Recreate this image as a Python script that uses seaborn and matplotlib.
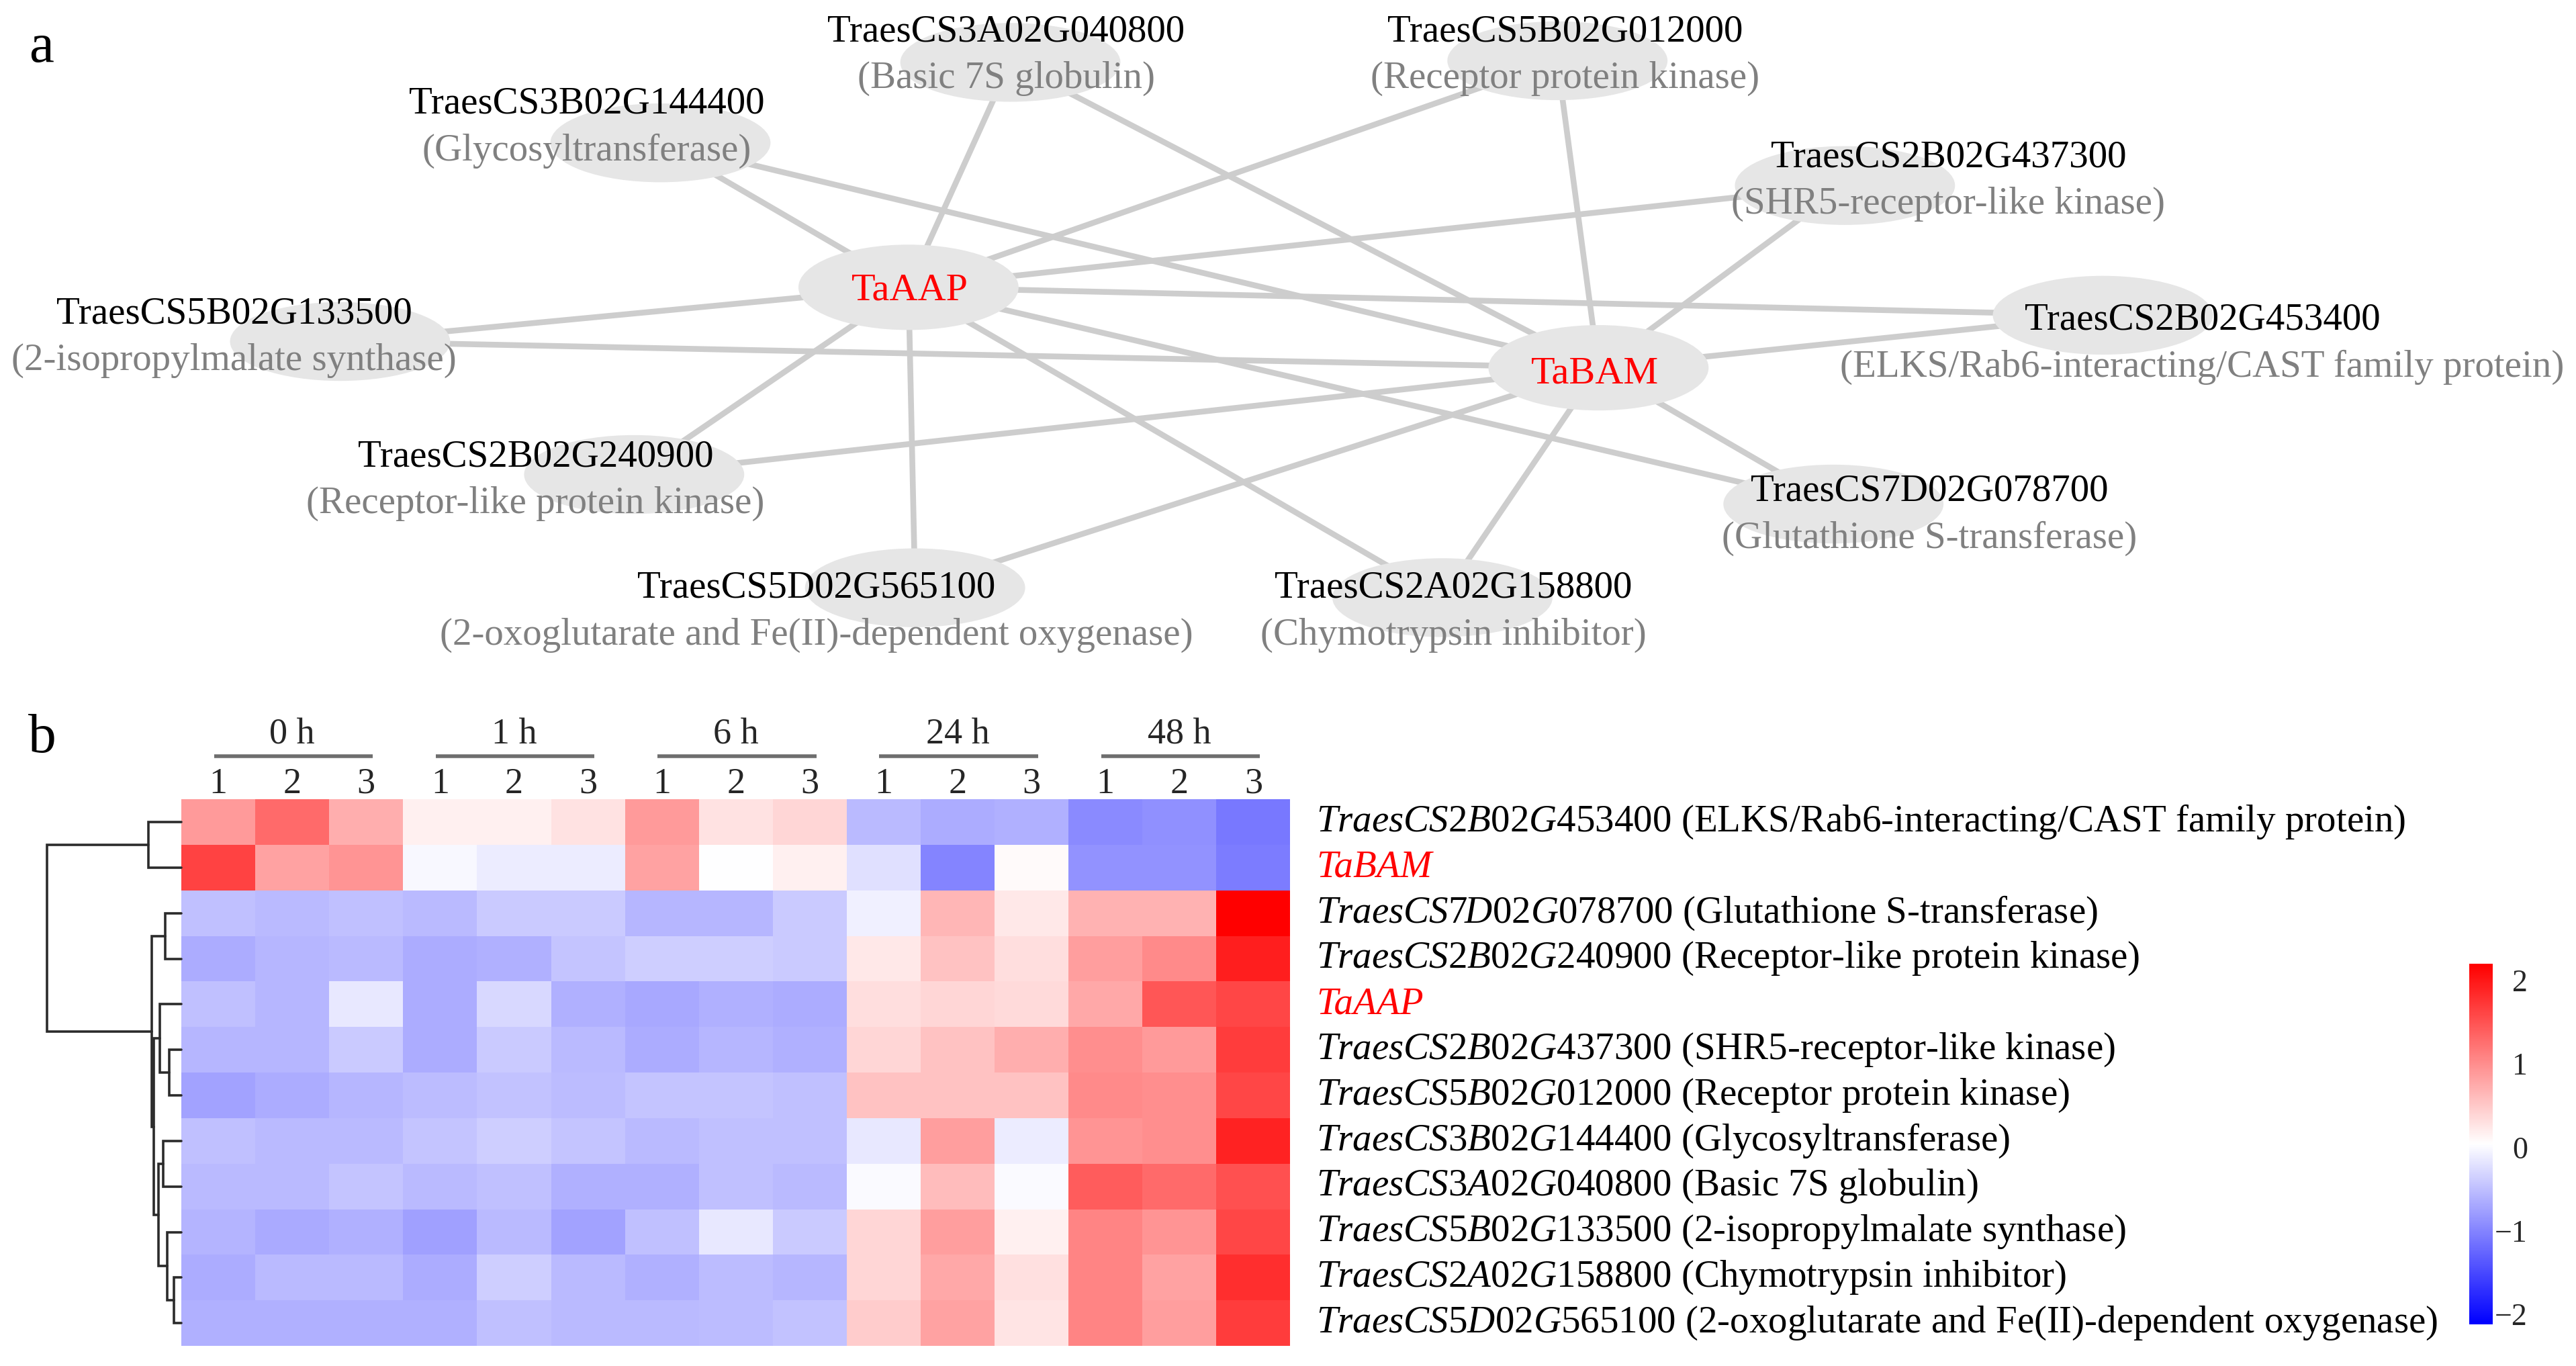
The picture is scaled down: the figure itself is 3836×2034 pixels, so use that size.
import numpy as np
import pandas as pd
import matplotlib
matplotlib.use("Agg")
import matplotlib.pyplot as plt
from matplotlib.patches import Ellipse
import seaborn as sns

# ------------------------------------------------------------------ data
hub_names = ["TaAAP", "TaBAM"]
partner_ids = ["TraesCS3A02G040800", "TraesCS5B02G012000", "TraesCS3B02G144400",
               "TraesCS2B02G437300", "TraesCS5B02G133500", "TraesCS2B02G453400",
               "TraesCS2B02G240900", "TraesCS7D02G078700", "TraesCS5D02G565100",
               "TraesCS2A02G158800"]
partner_desc = ["(Basic 7S globulin)", "(Receptor protein kinase)", "(Glycosyltransferase)",
                "(SHR5-receptor-like kinase)", "(2-isopropylmalate synthase)",
                "(ELKS/Rab6-interacting/CAST family protein)", "(Receptor-like protein kinase)",
                "(Glutathione S-transferase)", "(2-oxoglutarate and Fe(II)-dependent oxygenase)",
                "(Chymotrypsin inhibitor)"]
# every hub interacts with every partner
edge_source = [h for h in hub_names for _ in partner_ids]
edge_target = [p for _ in hub_names for p in partner_ids]

time_points = ["0 h", "1 h", "6 h", "24 h", "48 h"]
replicates = ["1", "2", "3"]
row_ids = ["TraesCS2B02G453400", "TaBAM", "TraesCS7D02G078700", "TraesCS2B02G240900",
           "TaAAP", "TraesCS2B02G437300", "TraesCS5B02G012000", "TraesCS3B02G144400",
           "TraesCS3A02G040800", "TraesCS5B02G133500", "TraesCS2A02G158800",
           "TraesCS5D02G565100"]
row_desc = ["(ELKS/Rab6-interacting/CAST family protein)", "", "(Glutathione S-transferase)",
            "(Receptor-like protein kinase)", "", "(SHR5-receptor-like kinase)",
            "(Receptor protein kinase)", "(Glycosyltransferase)", "(Basic 7S globulin)",
            "(2-isopropylmalate synthase)", "(Chymotrypsin inhibitor)",
            "(2-oxoglutarate and Fe(II)-dependent oxygenase)"]
expr_ELKS   = [0.90, 1.30, 0.73, 0.17, 0.17, 0.28, 0.90, 0.28, 0.39, -0.54, -0.66, -0.62, -0.95, -0.90, -1.10]
expr_TaBAM  = [1.64, 0.82, 0.95, -0.02, -0.12, -0.12, 0.82, 0.03, 0.17, -0.22, -1.00, 0.09, -0.88, -0.88, -1.07]
expr_7D0787 = [-0.49, -0.55, -0.49, -0.54, -0.41, -0.41, -0.58, -0.58, -0.41, -0.08, 0.65, 0.23, 0.69, 0.69, 2.20]
expr_2B2409 = [-0.66, -0.58, -0.54, -0.66, -0.63, -0.45, -0.37, -0.37, -0.41, 0.23, 0.56, 0.32, 0.86, 1.03, 1.94]
expr_TaAAP  = [-0.49, -0.58, -0.16, -0.66, -0.29, -0.62, -0.70, -0.62, -0.66, 0.32, 0.39, 0.35, 0.78, 1.47, 1.60]
expr_2B4373 = [-0.58, -0.58, -0.41, -0.66, -0.41, -0.54, -0.66, -0.58, -0.62, 0.39, 0.56, 0.73, 0.99, 0.90, 1.68]
expr_5B0120 = [-0.74, -0.66, -0.58, -0.52, -0.47, -0.52, -0.45, -0.45, -0.49, 0.56, 0.56, 0.56, 1.03, 0.99, 1.60]
expr_3B1444 = [-0.49, -0.54, -0.54, -0.45, -0.37, -0.45, -0.55, -0.49, -0.49, -0.16, 0.86, -0.12, 0.95, 0.99, 1.90]
expr_3A0408 = [-0.54, -0.54, -0.45, -0.54, -0.49, -0.62, -0.63, -0.49, -0.54, 0.00, 0.60, 0.00, 1.42, 1.30, 1.51]
expr_5B1335 = [-0.60, -0.68, -0.62, -0.77, -0.54, -0.74, -0.49, -0.16, -0.41, 0.39, 0.86, 0.17, 1.08, 0.95, 1.60]
expr_2A1588 = [-0.66, -0.54, -0.54, -0.66, -0.37, -0.55, -0.62, -0.52, -0.58, 0.39, 0.78, 0.30, 1.08, 0.82, 1.81]
expr_5D5651 = [-0.62, -0.62, -0.62, -0.62, -0.49, -0.54, -0.55, -0.52, -0.47, 0.47, 0.82, 0.26, 1.08, 0.86, 1.68]
cbar_ticks = [-2, -1, 0, 1, 2]

# dendrogram merges (left child, right child, height); leaves are rows 0..11
dendro_merges = [(0, 1, 0.244), (2, 3, 0.118), (5, 6, 0.092), (4, 14, 0.160),
                 (7, 8, 0.134), (10, 11, 0.054), (9, 17, 0.104), (16, 18, 0.171),
                 (15, 19, 0.205), (13, 20, 0.218), (12, 21, 1.0)]

# ------------------------------------------------------------------ layout (canvas px, 1568 x 832 frame)
W, H = 1568.0, 832.0
node_xy = {"TaAAP": (553, 175), "TaBAM": (973, 224),
           "TraesCS3A02G040800": (615, 38), "TraesCS5B02G012000": (948, 37),
           "TraesCS3B02G144400": (402, 87), "TraesCS2B02G437300": (1123, 113),
           "TraesCS5B02G133500": (207, 208), "TraesCS2B02G453400": (1280, 192),
           "TraesCS2B02G240900": (386, 289), "TraesCS7D02G078700": (1116, 307),
           "TraesCS5D02G565100": (557, 358), "TraesCS2A02G158800": (878, 364)}
label_xy = {"TraesCS3A02G040800": (612.5, 25), "TraesCS5B02G012000": (952.6, 25),
            "TraesCS3B02G144400": (357, 69), "TraesCS2B02G437300": (1186, 101.6),
            "TraesCS5B02G133500": (142.5, 197), "TraesCS2B02G453400": (1340.5, 200.7),
            "TraesCS2B02G240900": (326, 284), "TraesCS7D02G078700": (1174.5, 305),
            "TraesCS5D02G565100": (497, 364), "TraesCS2A02G158800": (884.7, 364)}
hub_label_xy = {"TaAAP": (553.8, 182.5), "TaBAM": (971, 233.3)}

# ------------------------------------------------------------------ style
sns.set_theme(style="white")
plt.rcParams["font.family"] = ["Liberation Serif", "DejaVu Serif"]
plt.rcParams["mathtext.fontset"] = "custom"
plt.rcParams["mathtext.rm"] = "Liberation Serif"
plt.rcParams["mathtext.it"] = "Liberation Serif:italic"
plt.rcParams["mathtext.bf"] = "Liberation Serif:bold"

FS = 20.5
fig = plt.figure(figsize=(19.18, 10.17), dpi=200)
fig.patch.set_facecolor("white")

# ------------------------------------------------------------------ panel a: network
ax = fig.add_axes([0, 0, 1, 1])
ax.set_xlim(0, W)
ax.set_ylim(H, 0)
ax.axis("off")

for s, t in zip(edge_source, edge_target):
    (x1, y1), (x2, y2) = node_xy[s], node_xy[t]
    ax.plot([x1, x2], [y1, y2], color="#cdcdcd", lw=3.1, zorder=1, solid_capstyle="butt")

for name, (x, y) in node_xy.items():
    hub = name in hub_names
    ax.add_patch(Ellipse((x, y), 134, 52 if hub else 48, facecolor="#e6e6e6",
                         edgecolor="none", zorder=2))

for pid, pdesc in zip(partner_ids, partner_desc):
    tx, ty = label_xy[pid]
    ax.text(tx, ty, pid, ha="center", va="baseline", fontsize=FS, color="black", zorder=3)
    ax.text(tx, ty + 28.5, pdesc, ha="center", va="baseline", fontsize=FS, color="#808080", zorder=3)

for hname in hub_names:
    tx, ty = hub_label_xy[hname]
    ax.text(tx, ty, hname, ha="center", va="baseline", fontsize=21, color="red", zorder=3)

ax.text(25, 37.8, "a", ha="center", va="baseline", fontsize=30, color="black")
ax.text(25.5, 458, "b", ha="center", va="baseline", fontsize=30, color="black")

# ------------------------------------------------------------------ panel b: heatmap
hm_left, hm_right, hm_top, hm_bottom = 110.4, 785.4, 486.8, 819.8
ax_hm = fig.add_axes([hm_left / W, 1 - hm_bottom / H, (hm_right - hm_left) / W, (hm_bottom - hm_top) / H])
cb_left, cb_right, cb_top, cb_bottom = 1503, 1517.5, 587, 806.5
ax_cb = fig.add_axes([cb_left / W, 1 - cb_bottom / H, (cb_right - cb_left) / W, (cb_bottom - cb_top) / H])

cols = [f"{t}_{r}" for t in time_points for r in replicates]
df = pd.DataFrame([expr_ELKS, expr_TaBAM, expr_7D0787, expr_2B2409, expr_TaAAP, expr_2B4373,
                   expr_5B0120, expr_3B1444, expr_3A0408, expr_5B1335, expr_2A1588, expr_5D5651],
                  index=row_ids, columns=cols)
sns.heatmap(df, ax=ax_hm, cmap="bwr", vmin=-2.12, vmax=2.2, cbar_ax=ax_cb,
            xticklabels=False, yticklabels=False, linewidths=0)
ax_hm.set_xlabel("")
ax_hm.set_ylabel("")

cbar = ax_hm.collections[0].colorbar
cbar.set_ticks(cbar_ticks)
cbar.outline.set_visible(False)
cbar.ax.tick_params(length=0, pad=18.5, labelsize=16.5)
for lab in cbar.ax.get_yticklabels():
    lab.set_horizontalalignment("right")
    lab.set_fontfamily("Liberation Serif")

row_h = (hm_bottom - hm_top) / len(row_ids)
for g, tp in enumerate(time_points):
    c0 = g * len(replicates)
    ax_hm.plot([c0 + 0.44, c0 + 2.59], [-(hm_top - 460.5) / row_h] * 2, color="#6e6e6e",
               lw=2.0, clip_on=False, solid_capstyle="butt")
    ax_hm.text(c0 + 1.5, -(hm_top - 453) / row_h, tp, ha="center", va="baseline",
               fontsize=19.5, clip_on=False)
    for k, rep in enumerate(replicates):
        ax_hm.text(c0 + k + 0.5, -(hm_top - 483) / row_h, rep, ha="center", va="baseline",
                   fontsize=19.5, clip_on=False)

for i, (rid, rdesc) in enumerate(zip(row_ids, row_desc)):
    if rid in hub_names:
        ax_hm.text(15.35, i + 0.5, rid, ha="left", va="center", fontsize=FS,
                   style="italic", color="red", clip_on=False)
    else:
        ax_hm.text(15.35, i + 0.5, r"$\mathit{" + rid + "}$ " + rdesc, ha="left",
                   va="center", fontsize=FS, color="black", clip_on=False)

# ------------------------------------------------------------------ dendrogram
dd_left = 28.5
ax_dd = fig.add_axes([dd_left / W, 1 - hm_bottom / H, (hm_left - dd_left) / W, (hm_bottom - hm_top) / H])
ax_dd.set_xlim(1.0, 0.0)
ax_dd.set_ylim(len(row_ids), 0)
ax_dd.axis("off")
pos = {i: (i + 0.5, 0.0) for i in range(len(row_ids))}
for k, (a, b, h) in enumerate(dendro_merges):
    ya, ha_ = pos[a]
    yb, hb = pos[b]
    ax_dd.plot([ha_, h, h, hb], [ya, ya, yb, yb], color="#2b2b2b", lw=1.3,
               clip_on=False, solid_joinstyle="miter")
    pos[len(row_ids) + k] = ((ya + yb) / 2, h)

fig.savefig("out.png", dpi=200, facecolor="white")
